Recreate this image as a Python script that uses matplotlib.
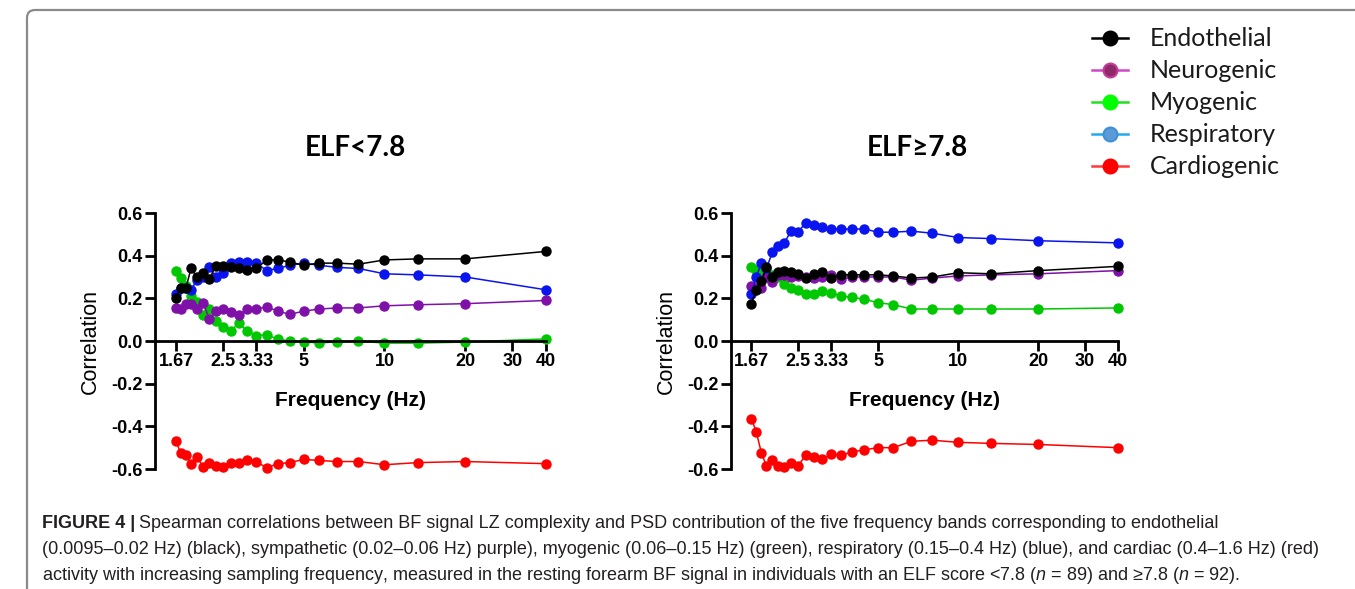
import matplotlib
matplotlib.use("Agg")
import matplotlib.pyplot as plt
from matplotlib.patches import FancyBboxPatch

plt.rcParams['font.family'] = ['Liberation Sans', 'DejaVu Sans']
plt.rcParams['axes.unicode_minus'] = False
plt.rcParams['mathtext.fontset'] = 'custom'
plt.rcParams['mathtext.it'] = 'Liberation Sans:italic'

# sampling frequencies (Hz)
freq = [1.67, 1.74, 1.82, 1.90, 2.00, 2.11, 2.22, 2.35, 2.50, 2.67, 2.86, 3.08,
        3.33, 3.64, 4.00, 4.44, 5.00, 5.71, 6.67, 8.00, 10.0, 13.33, 20.0, 40.0]
xticks = [1.67, 2.5, 3.33, 5, 10, 20, 30, 40]
xticklabels = ['1.67', '2.5', '3.33', '5', '10', '20', '30', '40']
yticks = [-0.6, -0.4, -0.2, 0.0, 0.2, 0.4, 0.6]

# ELF < 7.8
endo_lo = [0.20, 0.25, 0.25, 0.34, 0.30, 0.32, 0.29, 0.35, 0.35, 0.345, 0.34, 0.335,
           0.34, 0.38, 0.38, 0.37, 0.355, 0.365, 0.365, 0.36, 0.38, 0.385, 0.385, 0.42]
neuro_lo = [0.155, 0.15, 0.175, 0.175, 0.15, 0.18, 0.105, 0.14, 0.15, 0.135, 0.12, 0.15,
            0.15, 0.16, 0.14, 0.125, 0.14, 0.15, 0.155, 0.155, 0.165, 0.17, 0.175, 0.19]
myo_lo = [0.33, 0.295, 0.26, 0.21, 0.185, 0.12, 0.15, 0.095, 0.065, 0.045, 0.085, 0.045,
          0.025, 0.03, 0.008, 0.0, -0.003, -0.01, -0.003, 0.0, -0.01, -0.01, -0.005, 0.01]
resp_lo = [0.22, 0.25, 0.25, 0.24, 0.285, 0.30, 0.345, 0.30, 0.32, 0.365, 0.37, 0.37,
           0.365, 0.33, 0.34, 0.355, 0.365, 0.355, 0.345, 0.34, 0.315, 0.31, 0.30, 0.24]
card_lo = [-0.47, -0.525, -0.535, -0.575, -0.545, -0.59, -0.57, -0.585, -0.59, -0.57, -0.57, -0.56,
           -0.565, -0.595, -0.575, -0.57, -0.555, -0.56, -0.565, -0.565, -0.58, -0.57, -0.565, -0.575]

# ELF >= 7.8
endo_hi = [0.175, 0.24, 0.28, 0.345, 0.30, 0.325, 0.33, 0.325, 0.315, 0.295, 0.315, 0.325,
           0.295, 0.31, 0.31, 0.31, 0.31, 0.305, 0.295, 0.30, 0.32, 0.315, 0.33, 0.35]
neuro_hi = [0.26, 0.25, 0.25, 0.30, 0.275, 0.31, 0.31, 0.30, 0.305, 0.30, 0.295, 0.30,
            0.31, 0.29, 0.30, 0.30, 0.30, 0.30, 0.285, 0.295, 0.305, 0.31, 0.315, 0.33]
myo_hi = [0.345, 0.335, 0.32, 0.325, 0.31, 0.30, 0.265, 0.25, 0.24, 0.22, 0.22, 0.235,
          0.225, 0.21, 0.205, 0.195, 0.18, 0.17, 0.15, 0.15, 0.15, 0.15, 0.15, 0.155]
resp_hi = [0.22, 0.30, 0.365, 0.34, 0.415, 0.445, 0.46, 0.515, 0.51, 0.555, 0.545, 0.533,
           0.525, 0.525, 0.525, 0.525, 0.51, 0.51, 0.515, 0.505, 0.485, 0.48, 0.47, 0.46]
card_hi = [-0.365, -0.425, -0.525, -0.585, -0.56, -0.585, -0.59, -0.57, -0.585, -0.535, -0.545, -0.555,
           -0.53, -0.535, -0.52, -0.51, -0.50, -0.50, -0.47, -0.465, -0.475, -0.48, -0.485, -0.50]

colors = {'card': '#ff0000', 'myo': '#00c800', 'neuro': '#7f10a8',
          'resp': '#0a14ee', 'endo': '#000000'}

W, H = 1355, 589
fig = plt.figure(figsize=(W / 100, H / 100), dpi=100)

# frame + legend layer in pixel coordinates
lay = fig.add_axes([0, 0, 1, 1])
lay.set_xlim(0, W)
lay.set_ylim(H, 0)
lay.axis('off')
lay.add_patch(FancyBboxPatch((27, 10), 1500, 800, boxstyle='round,pad=0,rounding_size=8',
                             fc='none', ec='#8a8a8a', lw=1.6))

legend_items = [
    ('Endothelial', '#000000', '#000000', '#000000'),
    ('Neurogenic', '#d048c8', '#8e2a6a', '#c43a9a'),
    ('Myogenic', '#22e022', '#00ff00', '#00ff00'),
    ('Respiratory', '#22aaee', '#5b9bd5', '#3f8fd8'),
    ('Cardiogenic', '#ff3a3a', '#ff0000', '#ff0000'),
]
for i, (name, lc, mfc, mec) in enumerate(legend_items):
    yy = 38 + i * 32
    lay.plot([1092, 1128], [yy, yy], color=lc, lw=1.8)
    lay.plot([1110], [yy], 'o', ms=10, mfc=mfc, mec=mec, mew=1.5)
    lay.text(1150, yy, name, fontsize=18, family=['Lato', 'DejaVu Sans'],
             va='center', ha='left', color='#1a1a1a')


def panel(ax, endo, neuro, myo, resp, card):
    for vals, key in [(card, 'card'), (myo, 'myo'), (neuro, 'neuro'),
                      (resp, 'resp'), (endo, 'endo')]:
        ax.plot(freq, vals, '-o', color=colors[key], lw=1.1, ms=6.5, clip_on=False)
    ax.set_xscale('log')
    ax.set_xlim(1.395, 40)
    ax.set_ylim(-0.6, 0.6)
    ax.spines['top'].set_visible(False)
    ax.spines['right'].set_visible(False)
    ax.spines['bottom'].set_position(('data', 0))
    ax.spines['left'].set_linewidth(2)
    ax.spines['bottom'].set_linewidth(2)
    ax.set_xticks(xticks)
    ax.set_xticklabels(xticklabels)
    ax.xaxis.set_minor_locator(matplotlib.ticker.NullLocator())
    ax.set_yticks(yticks)
    ax.set_yticklabels(['%.1f' % v for v in yticks])
    ax.tick_params(axis='both', length=7, width=2, labelsize=13, pad=2)
    for lab in ax.get_xticklabels() + ax.get_yticklabels():
        lab.set_fontweight('bold')
    ax.set_xlabel('Frequency (Hz)', fontsize=15, fontweight='bold')
    ax.xaxis.set_label_coords(0.5, 0.305)
    ax.set_ylabel('Correlation', fontsize=15.5)
    ax.yaxis.set_label_coords(-0.138, 0.5)


ax1 = fig.add_axes([155 / W, 1 - 469 / H, 391 / W, 256 / H])
ax2 = fig.add_axes([730.7 / W, 1 - 469 / H, 387.6 / W, 256 / H])
panel(ax1, endo_lo, neuro_lo, myo_lo, resp_lo, card_lo)
panel(ax2, endo_hi, neuro_hi, myo_hi, resp_hi, card_hi)

fig.text(355 / W, 1 - 148 / H, 'ELF<7.8', fontsize=20, fontweight='bold',
         family=['Lato', 'DejaVu Sans'], ha='center', va='center')
fig.text(917 / W, 1 - 148 / H, 'ELF≥7.8', fontsize=20, fontweight='bold',
         family=['Lato', 'DejaVu Sans'], ha='center', va='center')

# caption
cap_font = ['Liberation Sans', 'DejaVu Sans']
cap_size = 13
cap_lines = [
    'Spearman correlations between BF signal LZ complexity and PSD contribution of the five frequency bands corresponding to endothelial',
    '(0.0095–0.02 Hz) (black), sympathetic (0.02–0.06 Hz) purple), myogenic (0.06–0.15 Hz) (green), respiratory (0.15–0.4 Hz) (blue), and cardiac (0.4–1.6 Hz) (red)',
    'activity with increasing sampling frequency, measured in the resting forearm BF signal in individuals with an ELF score <7.8 ($n$ = 89) and ≥7.8 ($n$ = 92).',
]
head = fig.text(42 / W, 1 - 523 / H, 'FIGURE 4 |', fontsize=cap_size, fontweight='bold',
                family=cap_font, va='center', ha='left', color='#231f20')
r = fig.canvas.get_renderer()
bb = head.get_window_extent(r)
fig.text((bb.x1 + 4) / W, 1 - 523 / H, cap_lines[0], fontsize=cap_size, family=cap_font,
         va='center', ha='left', color='#231f20')
for i, line in enumerate(cap_lines[1:]):
    fig.text(42 / W, 1 - (549 + 26 * i) / H, line, fontsize=cap_size, family=cap_font,
             va='center', ha='left', color='#231f20')

fig.savefig('out.png', dpi=100)
